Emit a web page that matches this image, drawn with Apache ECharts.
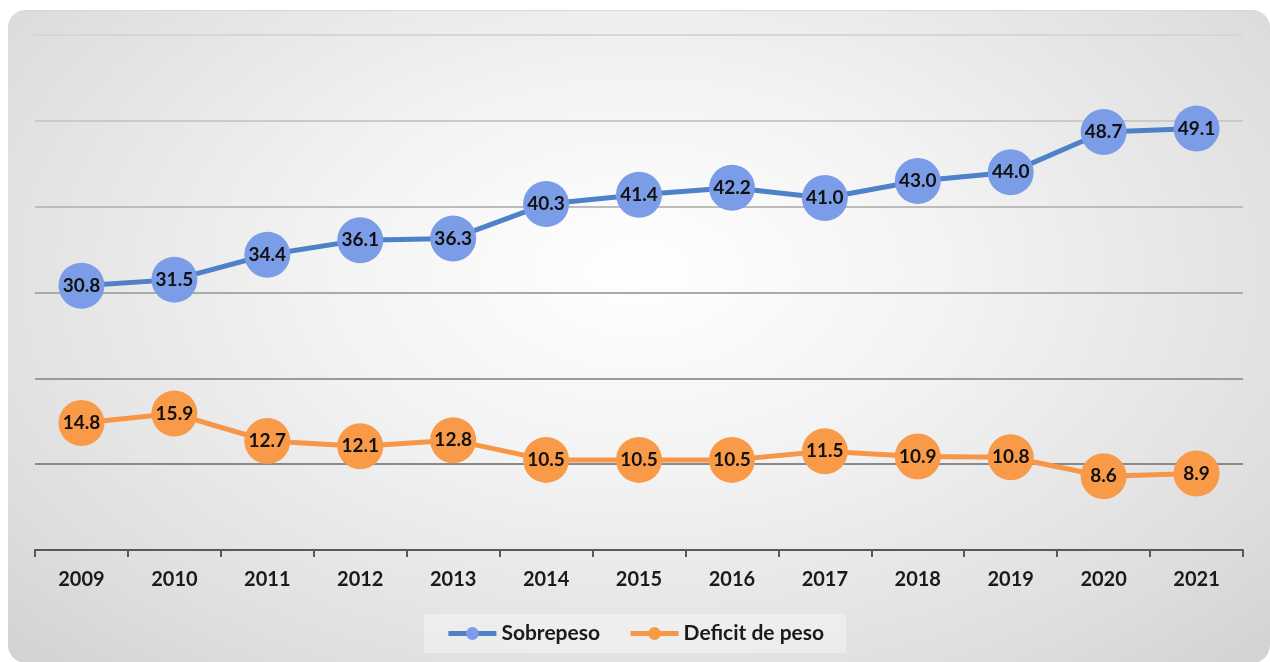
<!DOCTYPE html>
<html><head><meta charset="utf-8">
<script src="https://cdn.jsdelivr.net/npm/echarts@6/dist/echarts.min.js"></script>
<style>
html,body{margin:0;padding:0;background:#fff;}
#wrap{position:absolute;left:8px;top:10px;width:1262px;height:652px;border-radius:18px;
background:radial-gradient(ellipse at 50% 40%, #ffffff 0%, #f3f3f3 35%, #dedede 80%, #d2d2d2 100%);
border-top:1px solid #d8d8d8;}
#c{position:absolute;left:0;top:0;width:1270px;height:662px;}
</style></head><body>
<div id="wrap"></div>
<div id="c"></div>
<script>
const years = ['2009','2010','2011','2012','2013','2014','2015','2016','2017','2018','2019','2020','2021'];
const sobrepeso = [30.8,31.5,34.4,36.1,36.3,40.3,41.4,42.2,41.0,43.0,44.0,48.7,49.1];
const deficit = [14.8,15.9,12.7,12.1,12.8,10.5,10.5,10.5,11.5,10.9,10.8,8.6,8.9];
const yTicks = {min:0, max:60, interval:10};

const chart = echarts.init(document.getElementById('c'), null, {renderer:'canvas'});
const font = 'Lato, "Open Sans", sans-serif';
function mk(name, data, lineColor, fill){
  return {
    name, type:'line', data,
    symbol:'circle', symbolSize:46,
    lineStyle:{color:lineColor, width:5},
    itemStyle:{color:fill},
    label:{show:true, position:'inside', color:'#111', fontFamily:font, fontWeight:'bold', fontSize:19,
      formatter:p=>p.value.toFixed(1)},
    emphasis:{disabled:true}, z:3
  };
}
chart.setOption({
  animation:false,
  backgroundColor:'transparent',
  grid:{left:35, right:27, top:35, bottom:112, containLabel:false},
  xAxis:{type:'category', data:years, boundaryGap:true,
    axisLine:{lineStyle:{color:'#595959', width:2}},
    axisTick:{show:true, length:7, lineStyle:{color:'#595959', width:2}},
    axisLabel:{color:'#1a1a1a', fontFamily:font, fontWeight:'bold', fontSize:20, margin:20}},
  yAxis:{type:'value', min:yTicks.min, max:yTicks.max, interval:yTicks.interval,
    axisLabel:{show:false}, axisLine:{show:false}, axisTick:{show:false},
    splitLine:{lineStyle:{width:2, color:['#8a8a8a','#8a8a8a','#9a9a9a','#aaaaaa','#bcbcbc','#cacaca','#d6d6d6']}}},
  legend:{bottom:9, left:'center', itemWidth:48, itemHeight:16, itemGap:28,
    backgroundColor:'rgba(255,255,255,0.35)', padding:[9,22,9,22],
    lineStyle:{width:5},
    textStyle:{color:'#1a1a1a', fontFamily:font, fontWeight:'bold', fontSize:21},
    data:['Sobrepeso','Deficit de peso']},
  series:[
    mk('Sobrepeso', sobrepeso, '#4f81c9', '#7b9ce6'),
    mk('Deficit de peso', deficit, '#f79646', '#f99a48')
  ]
});
</script>
</body></html>
